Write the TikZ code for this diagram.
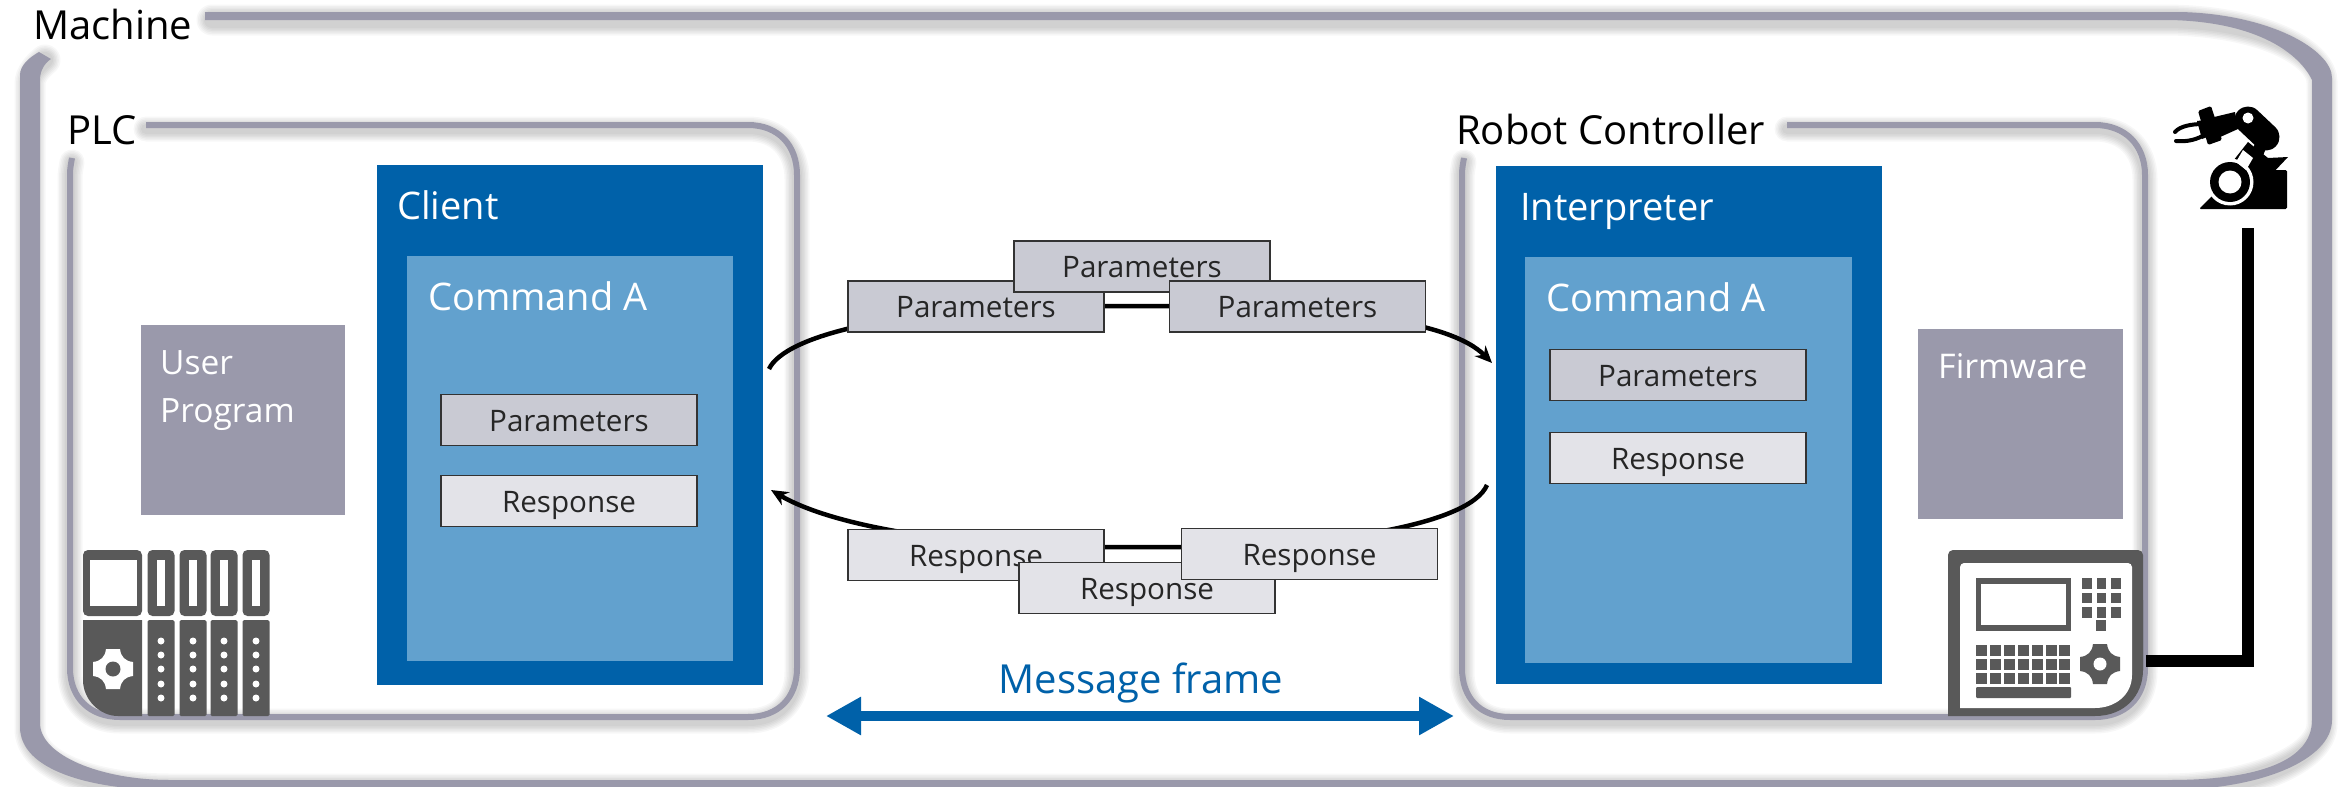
\documentclass[tikz,border=0pt]{standalone}
\usepackage{fontspec}
\setmainfont{Open Sans}
\usepackage{xcolor}
\usetikzlibrary{arrows.meta}
\definecolor{framegray}{HTML}{9A99AB}
\definecolor{iconGray}{HTML}{595959}
\definecolor{darkBlue}{HTML}{0061A9}
\definecolor{lightBlue}{HTML}{62A1CE}
\definecolor{paramGray}{HTML}{C9CAD3}
\definecolor{respGray}{HTML}{E3E3E8}
\newcommand{\softglow}[2]{%
  \foreach \w in {8,11,14,17,20,23}{\draw[black,opacity=0.03,line cap=round,line width=#2pt+\w pt,yshift=-4pt] #1;}}
\tikzset{
  framelabel/.style={anchor=base west,inner sep=0pt,font=\fontsize{40}{46}\selectfont},
  inlabel/.style={anchor=base west,inner sep=0pt,text=white,font=\fontsize{38}{44}\selectfont},
  msgbox/.style={draw=black!80,line width=1.6pt,minimum width=256pt,minimum height=51pt,inner sep=0pt,
    text=black!85,text height=28pt,text depth=6pt,font=\fontsize{29.6}{34}\selectfont},
  parambox/.style={msgbox,fill=paramGray},
  respbox/.style={msgbox,fill=respGray},
  block/.style={anchor=north west,inner sep=0pt},
  flow/.style={black,line width=4.5pt,-{Stealth[length=17pt,width=15pt]}},
  roundframe/.style={framegray,line width=6pt},
  gearshape/.pic={
    \fill[#1] (-7,-20) -- (7,-20) .. controls (8,-12) and (12,-8) .. (20,-7) -- (20,7)
      .. controls (12,8) and (8,12) .. (7,20) -- (-7,20) .. controls (-8,12) and (-12,8) .. (-20,7)
      -- (-20,-7) .. controls (-12,-8) and (-8,-12) .. (-7,-20) -- cycle;
  }
}
\begin{document}
\begin{tikzpicture}[x=1pt,y=-1pt]
  \useasboundingbox[fill=white] (0,0) rectangle (2346,787);

  \def\machinetop{(212,16) -- (2170,16) .. controls (2270,18) and (2322,52) .. (2322,78)
    -- (2322,720) .. controls (2322,755) and (2250,785) .. (2167,785) -- (170,785)
    .. controls (90,785) and (30,760) .. (30,725) -- (30,80) .. controls (30,70) and (38,62) .. (45,56)}
  \softglow{\machinetop}{8}
  \fill[framegray] (205,12) -- (2180,12) .. controls (2270,14) and (2332,50) .. (2332,78)
    -- (2332,720) .. controls (2332,760) and (2260,790) .. (2167,790) -- (170,790)
    .. controls (90,790) and (20,770) .. (20,727) -- (20,75) .. controls (20,65) and (30,57) .. (39,52)
    -- (51,59) .. controls (45,63) and (40,70) .. (40,80) -- (40,723)
    .. controls (40,755) and (100,780) .. (170,780) -- (2170,780)
    .. controls (2260,780) and (2312,760) .. (2312,720) -- (2312,80)
    .. controls (2300,55) and (2260,22) .. (2170,20) -- (205,20) -- cycle;

  \def\plcpath{(146,125) -- (748,125) .. controls (778,125) and (797,145) .. (797,175) -- (797,668)
    .. controls (797,698) and (778,717) .. (748,717) -- (120,717)
    .. controls (90,717) and (70,698) .. (70,668) -- (70,175) .. controls (70,168) and (71,164) .. (72,158)}
  \softglow{\plcpath}{2}
  \draw[roundframe] \plcpath;

  \def\ctrlpath{(1787,125) -- (2095,125) .. controls (2125,125) and (2145,145) .. (2145,175) -- (2145,668)
    .. controls (2145,698) and (2125,717) .. (2095,717) -- (1510,717)
    .. controls (1480,717) and (1462,698) .. (1462,668) -- (1462,175) .. controls (1462,168) and (1463,164) .. (1464,158)}
  \softglow{\ctrlpath}{2}
  \draw[roundframe] \ctrlpath;

  \node[framelabel] (machine) at (33,39) {Machine};
  \node[framelabel] (plc) at (67,144) {PLC};
  \node[framelabel] (ctrl) at (1456,144) {Robot Controller};

  \node[block,fill=darkBlue,minimum width=386pt,minimum height=520pt] (client) at (377,165) {};
  \node[block,fill=lightBlue,minimum width=326pt,minimum height=405pt] (clientcmd) at (407,256) {};
  \node[inlabel] (clienttxt) at (397,219) {Client};
  \node[inlabel] (clientcmdtxt) at (428,310) {Command A};
  \node[parambox] (clientpar) at (569,420) {Parameters};
  \node[respbox] (clientresp) at (569,501) {Response};

  \node[block,fill=darkBlue,minimum width=386pt,minimum height=518pt] (interp) at (1496,166) {};
  \node[block,fill=lightBlue,minimum width=327pt,minimum height=406pt] (interpcmd) at (1525,257) {};
  \node[inlabel] (interptxt) at (1520,220) {Interpreter};
  \node[inlabel] (interpcmdtxt) at (1546,311) {Command A};
  \node[parambox] (interppar) at (1678,375) {Parameters};
  \node[respbox] (interpresp) at (1678,458) {Response};

  \node[block,fill=framegray,minimum width=204pt,minimum height=190pt] (userprog) at (141,325) {};
  \node[anchor=north west,inner sep=0pt,align=left,text=white,font=\fontsize{33.5}{48}\selectfont] (userprogtxt) at (160,350) {User\\Program};
  \node[block,fill=framegray,minimum width=205pt,minimum height=190pt] (firmware) at (1918,329) {};
  \node[anchor=base west,inner sep=0pt,text=white,font=\fontsize{34}{40}\selectfont] (firmwaretxt) at (1938,378) {Firmware};

  \coordinate (paramout) at (769,369);
  \coordinate (paramin) at (1492,363);
  \coordinate (respout) at (1487,485);
  \coordinate (respin) at (771,490);
  \draw[flow] (paramout) .. controls (785,335) and (900,306) .. (1100,306) -- (1170,306)
    .. controls (1330,306) and (1450,320) .. (paramin);
  \draw[flow] (respout) .. controls (1470,525) and (1330,547) .. (1180,547) -- (1100,547)
    .. controls (950,547) and (830,525) .. (respin);

  \node[parambox] (par1) at (976,306.5) {Parameters};
  \node[parambox] (par2) at (1142,266.5) {Parameters};
  \node[parambox] (par3) at (1297.5,306.5) {Parameters};
  \node[respbox] (resp1) at (976,555) {Response};
  \node[respbox] (resp2) at (1147,588) {Response};
  \node[respbox] (resp3) at (1309.5,554) {Response};

  \node[inner sep=0pt,text=darkBlue,font=\fontsize{40}{46}\selectfont,anchor=base] (frametxt) at (1141,693) {Message frame};
  \coordinate (frameleft) at (826,716);
  \coordinate (frameright) at (1454,716);
  \draw[darkBlue,line width=10pt,{Triangle[length=35pt,width=36pt]}-{Triangle[length=35pt,width=36pt]}] (frameleft) -- (frameright);

  % PLC rack
  \fill[iconGray,rounded corners=5pt] (83,550) rectangle (142,616);
  \fill[white] (90,560) rectangle (137,606);
  \fill[iconGray] (83,620) -- (142,620) -- (142,716) -- (118,716) .. controls (100,716) and (83,700) .. (83,680) -- cycle;
  \pic at (113,669) {gearshape=white};
  \fill[iconGray] (113,669) circle (7.5);
  \foreach \x in {161,193,224,256}{
    \fill[iconGray,rounded corners=5pt] (\x-13.5,550) rectangle (\x+13.5,616);
    \fill[white] (\x-4,560) rectangle (\x+4,606);
    \fill[iconGray,rounded corners=1.5pt] (\x-13.5,620) rectangle (\x+13.5,716);
    \foreach \y in {641,655,669,684,698}{\fill[white] (\x,\y) circle (3.5);}
  }

  % operator panel
  \fill[iconGray,rounded corners=5pt] (1948,716) -- (1948,550) -- (2143,550) -- (2143,670);
  \fill[iconGray] (1948,716) -- (1948,600) -- (2143,600) -- (2143,670) .. controls (2143,695) and (2125,716) .. (2095,716) -- cycle;
  \fill[white] (1960,708) -- (1960,567) .. controls (1960,565) and (1962,563) .. (1964,563) -- (2128,563)
    .. controls (2130,563) and (2132,565) .. (2132,567) -- (2132,675) .. controls (2132,695) and (2115,708) .. (2095,708) -- cycle;
  \fill[iconGray] (1976,578) rectangle (2071,631);
  \fill[white] (1981,584) rectangle (2066,625);
  \foreach \i in {0,1,2}{\foreach \j in {0,1,2}{
    \fill[iconGray] (2082+14.5*\i,578+14.5*\j) rectangle ++(9.5,10.5);
  }}
  \fill[iconGray] (2096,620) rectangle (2106,631);
  \foreach \i in {0,...,6}{\foreach \j in {0,1,2}{
    \fill[iconGray] (1976+13.9*\i,645+14*\j) rectangle ++(11,10.5);
  }}
  \fill[iconGray,rounded corners=1pt] (1976,687) rectangle (2071,698);
  \pic at (2100,664) {gearshape=iconGray};
  \fill[white] (2100,664) circle (6.5);

  % robot
  \fill[black,rounded corners=1.5pt] (2199,209) -- (2238,170) -- (2287,170) -- (2287,209) -- cycle;
  \fill[black] (2248,142) -- (2268,158) -- (2288,157) -- (2252,195) -- (2222,175) -- cycle;
  \fill[white] (2230,182) circle (23.5);
  \fill[black] (2230,182) circle (20);
  \fill[white] (2230,182) circle (11.5);
  \fill[white] (2243,150) -- (2253,158) -- (2246,170) -- (2236,162) -- cycle;
  \draw[black,line width=27pt,line cap=round] (2248,120) -- (2266,137);
  \draw[black,line width=12pt,line cap=round] (2262,142) -- (2258,152);
  \draw[white,line width=2pt] (2234,126) -- (2246,143);
  \fill[black] (2210,118) -- (2235,112) -- (2238,129) -- (2218,138) -- cycle;
  \fill[black,rounded corners=1.5pt] (2198,111) -- (2211,106) -- (2222,140) -- (2208,145) -- cycle;
  \draw[black,line width=4pt,line cap=round] (2203,124) .. controls (2192,124) and (2180,126) .. (2175,132);
  \draw[black,line width=4pt,line cap=round] (2207,133) .. controls (2198,140) and (2186,142) .. (2176,141);
  \fill[black] (2197,121) -- (2205,120) -- (2210,136) -- (2202,139) -- cycle;
  \fill[white] (2248,118) circle (5.5);

  \coordinate (panelout) at (2146,661);
  \coordinate (robotin) at (2248,228);
  \draw[black,line width=12pt] (panelout) -| (robotin);
\end{tikzpicture}
\end{document}
